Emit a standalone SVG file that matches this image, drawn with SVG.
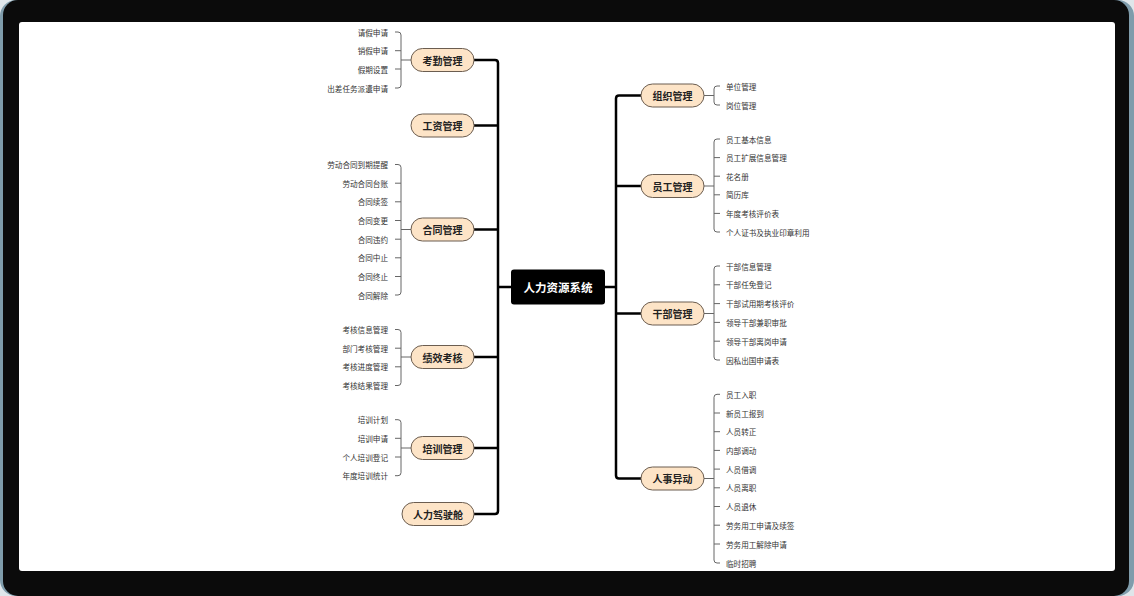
<svg xmlns="http://www.w3.org/2000/svg" width="1134" height="596" viewBox="0 0 1134 596">
<style>
.node rect{fill:#fde4c7;stroke:#6b5d50;stroke-width:1}
.node text{font-family:"Noto Sans CJK SC","Liberation Sans",sans-serif;font-size:10px;font-weight:bold;fill:#222;text-anchor:middle;dominant-baseline:central}
.node text.leaf{font-size:7.6px;font-weight:normal;fill:#333;text-anchor:start}
.node text.leaf.l{text-anchor:end}
.trunk path{fill:none;stroke:#000;stroke-width:2.5}
.br path{fill:none;stroke:#666;stroke-width:1}
</style>
<rect x="0" y="0" width="1134" height="596" fill="#dfe6ea"/>
<rect x="0" y="0" width="1134" height="596" rx="16" fill="#7f9cab"/>
<rect x="3" y="0" width="1126" height="596" rx="15" fill="#0b0b0b"/>
<rect x="19" y="22" width="1096" height="549" rx="3" fill="#ffffff"/>

<g id="connectors">
<g class="trunk">
<path d="M474,60 H495 Q498,60 498,63 V511 Q498,514 495,514 H474"/>
<path d="M474,125.5 H498"/>
<path d="M474,229.5 H498"/>
<path d="M474,357 H498"/>
<path d="M474,448 H498"/>
<path d="M511,287 H498"/>
<path d="M641,95.5 H619 Q616,95.5 616,98.5 V475.5 Q616,478.5 619,478.5 H641"/>
<path d="M641,186 H616"/>
<path d="M641,313.5 H616"/>
<path d="M605,287 H616"/>
</g>
<g class="br">
<path d="M411,60 H401 M395,32 H398 Q401,32 401,35 V85 Q401,88 398,88 H395 M395,50.7 H401 M395,69 H401"/>
<path d="M411,229.5 H401 M395,164.5 H398 Q401,164.5 401,167.5 V292 Q401,295 398,295 H395 M395,183.2 H401 M395,201.8 H401 M395,220.5 H401 M395,239.2 H401 M395,257.8 H401 M395,276.5 H401"/>
<path d="M411,357 H401 M395,329.5 H398 Q401,329.5 401,332.5 V382.5 Q401,385.5 398,385.5 H395 M395,348.2 H401 M395,366.8 H401"/>
<path d="M411,448 H401 M395,419.7 H398 Q401,419.7 401,422.7 V472.7 Q401,475.7 398,475.7 H395 M395,438.3 H401 M395,457 H401"/>
<path d="M704,95.5 H714 M720,86 H717 Q714,86 714,89 V102 Q714,105 717,105 H720"/>
<path d="M704,186 H714 M720,139 H717 Q714,139 714,142 V229 Q714,232 717,232 H720 M714,157.6 H720 M714,176.2 H720 M714,194.8 H720 M714,213.4 H720"/>
<path d="M704,313.5 H714 M720,266 H717 Q714,266 714,269 V357 Q714,360 717,360 H720 M714,284.8 H720 M714,303.6 H720 M714,322.4 H720 M714,341.2 H720"/>
<path d="M704,478.5 H714 M720,394.3 H717 Q714,394.3 714,397.3 V560 Q714,563 717,563 H720 M714,413 H720 M714,431.7 H720 M714,450.4 H720 M714,469.1 H720 M714,487.8 H720 M714,506.5 H720 M714,525.2 H720 M714,544 H720"/>
</g>
</g>

<g id="root">
<rect x="511" y="269.5" width="94" height="35" rx="3" fill="#000"/>
<text x="558" y="287" font-family="'Noto Sans CJK SC','Liberation Sans',sans-serif" font-size="11.5" font-weight="bold" fill="#fff" text-anchor="middle" dominant-baseline="central">人力资源系统</text>
</g>

<g id="kaoqin" class="node">
<rect x="411" y="48.5" width="63" height="23" rx="11.5"/><text x="442.5" y="60">考勤管理</text>
<text class="leaf l" x="388" y="32">请假申请</text>
<text class="leaf l" x="388" y="50.7">销假申请</text>
<text class="leaf l" x="388" y="69">假期设置</text>
<text class="leaf l" x="388" y="88">出差任务派遣申请</text>
</g>
<g id="gongzi" class="node">
<rect x="411" y="114" width="63" height="23" rx="11.5"/><text x="442.5" y="125.5">工资管理</text>
</g>
<g id="hetong" class="node">
<rect x="411" y="218" width="63" height="23" rx="11.5"/><text x="442.5" y="229.5">合同管理</text>
<text class="leaf l" x="388" y="164.5">劳动合同到期提醒</text>
<text class="leaf l" x="388" y="183.2">劳动合同台账</text>
<text class="leaf l" x="388" y="201.8">合同续签</text>
<text class="leaf l" x="388" y="220.5">合同变更</text>
<text class="leaf l" x="388" y="239.2">合同违约</text>
<text class="leaf l" x="388" y="257.8">合同中止</text>
<text class="leaf l" x="388" y="276.5">合同终止</text>
<text class="leaf l" x="388" y="295">合同解除</text>
</g>
<g id="jixiao" class="node">
<rect x="411" y="345.5" width="63" height="23" rx="11.5"/><text x="442.5" y="357">绩效考核</text>
<text class="leaf l" x="388" y="329.5">考核信息管理</text>
<text class="leaf l" x="388" y="348.2">部门考核管理</text>
<text class="leaf l" x="388" y="366.8">考核进度管理</text>
<text class="leaf l" x="388" y="385.5">考核结果管理</text>
</g>
<g id="peixun" class="node">
<rect x="411" y="436.5" width="63" height="23" rx="11.5"/><text x="442.5" y="448">培训管理</text>
<text class="leaf l" x="388" y="419.7">培训计划</text>
<text class="leaf l" x="388" y="438.3">培训申请</text>
<text class="leaf l" x="388" y="457">个人培训登记</text>
<text class="leaf l" x="388" y="475.7">年度培训统计</text>
</g>
<g id="jiashicang" class="node">
<rect x="402" y="502.5" width="72" height="23" rx="11.5"/><text x="438" y="514">人力驾驶舱</text>
</g>

<g id="zuzhi" class="node">
<rect x="641" y="84" width="63" height="23" rx="11.5"/><text x="672.5" y="95.5">组织管理</text>
<text class="leaf" x="726" y="86">单位管理</text>
<text class="leaf" x="726" y="105">岗位管理</text>
</g>
<g id="yuangong" class="node">
<rect x="641" y="174.5" width="63" height="23" rx="11.5"/><text x="672.5" y="186">员工管理</text>
<text class="leaf" x="726" y="139">员工基本信息</text>
<text class="leaf" x="726" y="157.6">员工扩展信息管理</text>
<text class="leaf" x="726" y="176.2">花名册</text>
<text class="leaf" x="726" y="194.8">简历库</text>
<text class="leaf" x="726" y="213.4">年度考核评价表</text>
<text class="leaf" x="726" y="232">个人证书及执业印章利用</text>
</g>
<g id="ganbu" class="node">
<rect x="641" y="302" width="63" height="23" rx="11.5"/><text x="672.5" y="313.5">干部管理</text>
<text class="leaf" x="726" y="266">干部信息管理</text>
<text class="leaf" x="726" y="284.8">干部任免登记</text>
<text class="leaf" x="726" y="303.6">干部试用期考核评价</text>
<text class="leaf" x="726" y="322.4">领导干部兼职审批</text>
<text class="leaf" x="726" y="341.2">领导干部离岗申请</text>
<text class="leaf" x="726" y="360">因私出国申请表</text>
</g>
<g id="renshi" class="node">
<rect x="641" y="467" width="63" height="23" rx="11.5"/><text x="672.5" y="478.5">人事异动</text>
<text class="leaf" x="726" y="394.3">员工入职</text>
<text class="leaf" x="726" y="413">新员工报到</text>
<text class="leaf" x="726" y="431.7">人员转正</text>
<text class="leaf" x="726" y="450.4">内部调动</text>
<text class="leaf" x="726" y="469.1">人员借调</text>
<text class="leaf" x="726" y="487.8">人员离职</text>
<text class="leaf" x="726" y="506.5">人员退休</text>
<text class="leaf" x="726" y="525.2">劳务用工申请及续签</text>
<text class="leaf" x="726" y="544">劳务用工解除申请</text>
<text class="leaf" x="726" y="563">临时招聘</text>
</g>
</svg>
